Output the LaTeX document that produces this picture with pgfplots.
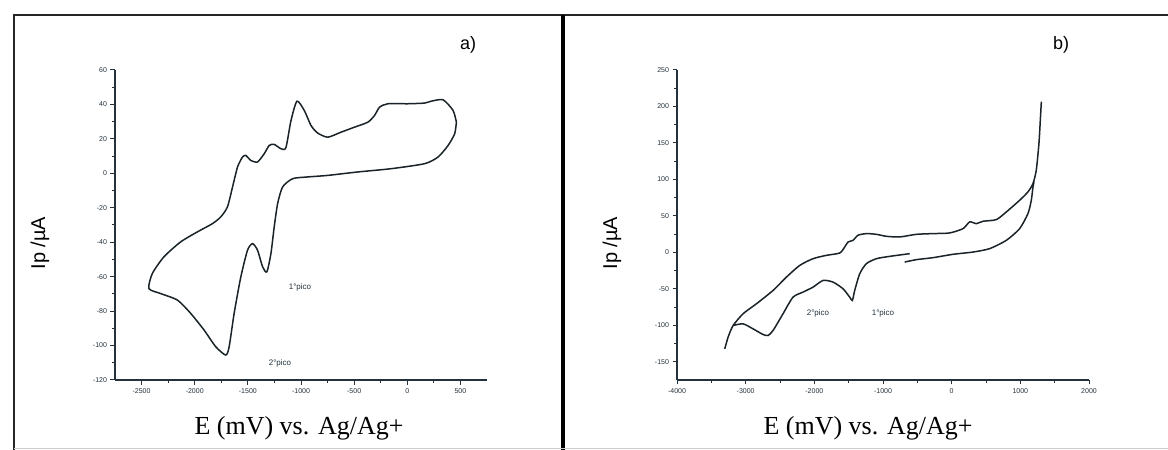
\documentclass[border=0pt]{standalone}
\usepackage{fontspec}
\setmainfont{Liberation Serif}
\setsansfont{Liberation Sans}
\usepackage{pgfplots}
\pgfplotsset{compat=1.18}
\definecolor{ax}{RGB}{35,50,60}
\definecolor{crv}{RGB}{25,35,40}
\pgfplotsset{cvaxis/.style={
  scale only axis, anchor=south west,
  axis x line*=bottom, axis y line*=left,
  axis line style={ax, line width=1.5pt},
  every tick/.style={ax, line width=1pt},
  tick align=outside, major tick length=4.5pt, minor tick length=3pt,
  minor x tick num=1, minor y tick num=1,
  tick label style={font=\fontsize{7}{8}\selectfont\sffamily, text=ax},
  xticklabel style={yshift=-1pt},
  /pgf/number format/assume math mode=true,
  /pgf/number format/1000 sep={},
  scaled ticks=false,
  clip=false,
}}
\begin{document}
\begin{tikzpicture}[x=1pt,y=1pt]
\useasboundingbox (0,0) rectangle (1168,450);
\fill[white] (0,0) rectangle (1168,450);
\draw[black!85, line width=2.4pt] (14,0) -- (14,435) -- (1168,435);
\draw[black, line width=4pt] (563,0) -- (563,435);
\draw[gray!40, line width=0.8pt] (14,2) -- (1168,2);

\begin{axis}[cvaxis, at={(115pt,70pt)}, width=372pt, height=310pt,
  xmin=-2750, xmax=750, ymin=-120, ymax=60,
  xtick={-2500,-2000,...,500}, ytick={-120,-100,...,60}]
\addplot[crv, line width=1.5pt, smooth, tension=0.4] coordinates {
(462,29.7) (431,36.5) (337,42.7) (226,41.9) (163,40.8) (6,40.4) (-182,40.4) (-261,38.4) (-308,33.6) (-371,29.7) (-497,26.8) (-623,23.9) (-748,21.0) (-843,23.4) (-906,27.8) (-969,36.5) (-1038,41.9) (-1094,30.7) (-1142,14.9) (-1189,14.3) (-1252,16.8) (-1299,16.2) (-1346,11.4) (-1409,6.6) (-1472,7.5) (-1519,10.4) (-1550,9.5) (-1597,3.7) (-1644,-7.9) (-1692,-19.5) (-1755,-25.3) (-1833,-29.2) (-1975,-34.0) (-2132,-39.8) (-2290,-48.5) (-2399,-58.2) (-2431,-66.9) (-2321,-69.8) (-2163,-73.6) (-2038,-81.3) (-1912,-91.0) (-1802,-100.7) (-1708,-105.5) (-1676,-100.7) (-1629,-81.3) (-1566,-60.1) (-1503,-44.6) (-1456,-40.8) (-1409,-44.6) (-1361,-54.3) (-1321,-57.2) (-1283,-46.6) (-1252,-31.1) (-1220,-17.6) (-1173,-7.9) (-1078,-3.1) (-937,-2.1) (-748,-1.2) (-465,0.8) (-151,2.7) (163,5.6) (290,9.5) (384,16.2) (446,23.0) (462,29.7)};
\end{axis}

\begin{axis}[cvaxis, at={(677pt,70pt)}, width=412pt, height=310pt,
  xmin=-4000, xmax=2000, ymin=-175, ymax=250,
  xtick={-4000,-3000,...,2000}, ytick={-150,-100,...,250}]
\addplot[crv, line width=1.5pt, smooth, tension=0.4] coordinates {
(-3304,-132.3) (-3256,-116.3) (-3183,-100.3) (-3038,-84.2) (-2843,-70.5) (-2601,-52.2) (-2406,-33.9) (-2213,-17.9) (-2019,-8.7) (-1824,-4.1) (-1630,-0.9) (-1558,7.3) (-1509,14.2) (-1437,16.5) (-1364,23.4) (-1242,25.7) (-1096,24.7) (-951,22.0) (-757,21.1) (-514,24.7) (-272,25.7) (-29,26.6) (165,32.5) (262,41.7) (359,39.4) (456,42.6) (650,44.9) (796,55.4) (990,71.4) (1111,82.9) (1184,94.3) (1232,112.6) (1271,149.3) (1291,181.3) (1306,206.5)};
\addplot[crv, line width=1.5pt, smooth, tension=0.4] coordinates {
(-3183,-100.3) (-3038,-98.0) (-2892,-104.9) (-2747,-112.6) (-2674,-114.0) (-2601,-107.1) (-2456,-84.2) (-2310,-61.4) (-2165,-54.5) (-2019,-47.7) (-1873,-38.5) (-1728,-40.8) (-1582,-49.9) (-1485,-61.4) (-1446,-65.9) (-1412,-52.2) (-1339,-29.3) (-1242,-15.5) (-1096,-8.7) (-902,-5.5) (-611,-1.8)};
\addplot[crv, line width=1.5pt, smooth, tension=0.4] coordinates {
(-684,-13.3) (-514,-10.0) (-272,-7.3) (19,-2.7) (310,0.4) (553,5.1) (796,16.5) (990,32.5) (1111,53.2) (1160,71.4) (1184,89.7) (1200,97)};
\end{axis}

% labels
\node[font=\fontsize{26}{30}\selectfont, anchor=base] at (299,15) {E (mV) vs. Ag/Ag+};
\node[font=\fontsize{26}{30}\selectfont, anchor=base] at (868,15) {E (mV) vs. Ag/Ag+};
\node[font=\fontsize{20}{24}\selectfont\sffamily, rotate=90] at (40,207) {Ip /µA};
\node[font=\fontsize{20}{24}\selectfont\sffamily, rotate=90] at (612,207) {Ip /µA};
\node[font=\fontsize{18}{22}\selectfont\sffamily] at (468,405) {a)};
\node[font=\fontsize{18}{22}\selectfont\sffamily] at (1061,405) {b)};
\node[font=\fontsize{8}{10}\selectfont\sffamily, text=ax] at (300,163) {1°pico};
\node[font=\fontsize{8}{10}\selectfont\sffamily, text=ax] at (280,87) {2°pico};
\node[font=\fontsize{8}{10}\selectfont\sffamily, text=ax] at (818,137) {2°pico};
\node[font=\fontsize{8}{10}\selectfont\sffamily, text=ax] at (883,137) {1°pico};
\end{tikzpicture}
\end{document}
